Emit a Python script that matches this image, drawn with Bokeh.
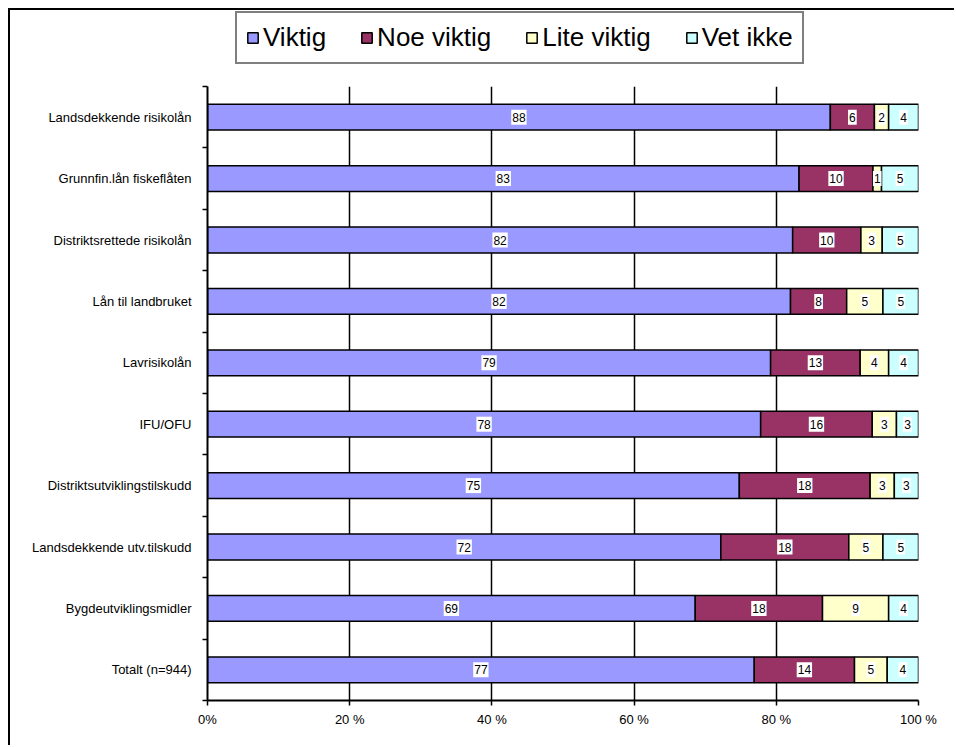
import numpy as np
from bokeh.plotting import figure
from bokeh.layouts import column
from bokeh.models import (ColumnDataSource, Range1d, FixedTicker, Legend, LegendItem)
from bokeh.core.properties import value
from bokeh.embed import file_html
from bokeh.resources import INLINE

# ---- data (top to bottom as in the chart) ----
categories = ["Landsdekkende risikolån", "Grunnfin.lån fiskeflåten", "Distriktsrettede risikolån",
              "Lån til landbruket", "Lavrisikolån", "IFU/OFU", "Distriktsutviklingstilskudd",
              "Landsdekkende utv.tilskudd", "Bygdeutviklingsmidler", "Totalt (n=944)"]
viktig      = [87.6, 83.2, 82.3, 82.0, 79.2, 77.8, 74.8, 72.2, 68.6, 76.9]
noe_viktig  = [6.2, 10.4, 9.6, 7.9, 12.6, 15.7, 18.4, 18.0, 17.9, 14.1]
lite_viktig = [2.0, 1.2, 3.0, 5.1, 4.0, 3.4, 3.4, 4.8, 9.3, 4.6]
vet_ikke    = [4.2, 5.2, 5.1, 5.0, 4.2, 3.1, 3.4, 5.0, 4.2, 4.4]
series_names = ["Viktig", "Noe viktig", "Lite viktig", "Vet ikke"]
colors = ["#9999FF", "#993366", "#FFFFCC", "#CCFFFF"]
x_ticks = [0, 20, 40, 60, 80, 100]
x_tick_labels = ["0%", "20 %", "40 %", "60 %", "80 %", "100 %"]

FONT = "Liberation Sans"
n = len(categories)
ypos = [n - 0.5 - i for i in range(n)]

cols = ["viktig", "noe", "lite", "vet"]
data = dict(y=ypos, viktig=viktig, noe=noe_viktig, lite=lite_viktig, vet=vet_ikke)
source = ColumnDataSource(data)

# ---- legend strip (top); its frame is aligned with the main chart's frame ----
# the stacked series are drawn small here, entirely hidden behind the opaque legend box;
# they only supply the legend swatches
leg_fig = figure(width=944, height=74, output_backend="svg", toolbar_location=None,
                 x_range=Range1d(-8.5, 125.7), y_range=Range1d(-7.47, 13.03),
                 x_axis_type=None, y_axis_type=None,
                 min_border_left=0, min_border_right=0, min_border_top=0, min_border_bottom=0)
leg_fig.outline_line_color = None
leg_fig.xgrid.visible = False
leg_fig.ygrid.visible = False
leg_renderers = leg_fig.hbar_stack(cols, y="y", height=0.42, color=colors, source=source,
                                   line_color="black", line_width=1.5)
legend = Legend(items=[LegendItem(label=nm, renderers=[r]) for nm, r in zip(series_names, leg_renderers)],
                orientation="horizontal", location=(28, 20),
                label_text_font=FONT, label_text_font_size="26px", label_text_color="black",
                glyph_width=13, glyph_height=13, label_standoff=4, spacing=34, padding=9,
                margin=0, border_line_color="black", border_line_width=2,
                background_fill_color="white", background_fill_alpha=1)
leg_fig.add_layout(legend, "center")

# ---- main chart ----
p = figure(width=944, height=661, output_backend="svg", toolbar_location=None,
           x_range=Range1d(0, 100), y_range=Range1d(0, n),
           min_border_left=197, min_border_right=36, min_border_top=2, min_border_bottom=45)
p.outline_line_color = None
p.background_fill_color = "white"
p.border_fill_color = "white"

renderers = p.hbar_stack(cols, y="y", height=0.42, color=colors, source=source,
                         line_color="black", line_width=1.5)

# data labels
arr = np.array([viktig, noe_viktig, lite_viktig, vet_ikke])
cum = np.cumsum(arr, axis=0)
starts = cum - arr
centers = starts + arr / 2
lx, ly, lt = [], [], []
for s in range(arr.shape[0]):
    for i in range(n):
        lx.append(centers[s, i]); ly.append(ypos[i]); lt.append(f"{arr[s, i]:.0f}")
p.text(x=lx, y=ly, text=lt, text_align="center", text_baseline="middle",
       text_font=value(FONT), text_font_size="12px", text_color="black",
       background_fill_color="white", padding=dict(x=1, y=3))

# x axis
xa = p.xaxis[0]
xa.ticker = FixedTicker(ticks=x_ticks, minor_ticks=[])
xa.major_label_overrides = {t: l for t, l in zip(x_ticks, x_tick_labels)}
xa.axis_line_width = 2
xa.axis_line_color = "black"
xa.major_tick_line_color = "black"
xa.major_tick_line_width = 1.5
xa.major_tick_out = 5
xa.major_tick_in = 0
xa.minor_tick_line_color = None
xa.major_label_standoff = 6
xa.major_label_text_font = FONT
xa.major_label_text_font_size = "13px"
xa.major_label_text_color = "black"

# y axis
ya = p.yaxis[0]
ya.ticker = FixedTicker(ticks=ypos, minor_ticks=list(range(n + 1)))
ya.major_label_overrides = {y: c for y, c in zip(ypos, categories)}
ya.axis_line_width = 2
ya.axis_line_color = "black"
ya.major_tick_line_color = None
ya.major_tick_out = 0
ya.major_tick_in = 0
ya.minor_tick_line_color = "black"
ya.minor_tick_line_width = 1.5
ya.minor_tick_out = 5
ya.minor_tick_in = 0
ya.major_label_standoff = 11
ya.major_label_text_font = FONT
ya.major_label_text_font_size = "13px"
ya.major_label_text_color = "black"

p.xgrid.ticker = FixedTicker(ticks=x_ticks[1:])
p.xgrid.grid_line_color = "black"
p.xgrid.grid_line_width = 1.5
p.ygrid.visible = False

layout = column(leg_fig, p, spacing=0)
layout.styles = {"margin-left": "8px", "margin-top": "8px",
                 "border-left": "2px solid black", "border-top": "2px solid black"}

open("out.html", "w").write(file_html(layout, INLINE))
